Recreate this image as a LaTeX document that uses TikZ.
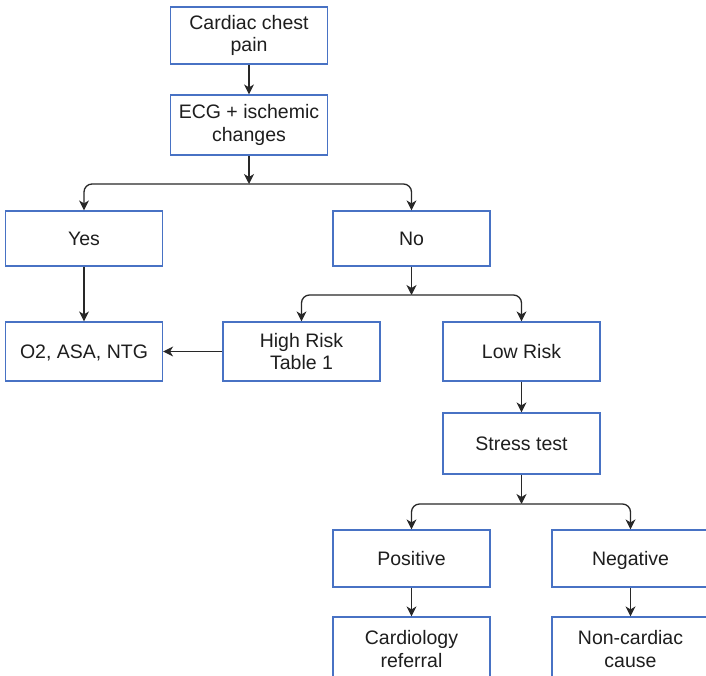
\documentclass[tikz,border=0pt]{standalone}
\usepackage{fontspec}
\setmainfont{Liberation Sans}
\usetikzlibrary{arrows.meta}
\definecolor{boxblue}{RGB}{72,114,196}
\definecolor{linegray}{RGB}{40,40,40}
\definecolor{txt}{RGB}{30,30,30}
\tikzset{
  fbox/.style={draw=boxblue, line width=1.2pt, fill=white, minimum width=157pt, minimum height=57pt,
    inner sep=0pt, align=center, text=txt, font=\fontsize{19.5}{22.5}\selectfont},
  onebox/.style={fbox, text height=14pt, text depth=1pt},
  conn/.style={draw=linegray, line width=1.3pt},
  arr/.style={conn, -{Stealth[length=10pt,width=10pt,inset=3pt]}},
  branch/.style={arr, rounded corners=8pt}
}
\begin{document}
\begin{tikzpicture}[x=1pt,y=-1pt]
\useasboundingbox (0,0) rectangle (706,675);
\begin{scope}
\clip (0,0) rectangle (706,675);
\node[fbox] (chest) at (249,35.5) {Cardiac chest\\pain};
\node[fbox, minimum height=60pt] (ecg) at (249,125) {ECG + ischemic\\changes};
\node[onebox, minimum height=55pt] (yes) at (84,238.5) {Yes};
\node[onebox, minimum height=55pt] (no) at (411.5,238.5) {No};
\node[onebox, minimum height=59pt] (o2) at (84,351.5) {O2, ASA, NTG};
\node[fbox, minimum height=59pt] (high) at (301.5,351.5) {High Risk\\Table 1};
\node[onebox, minimum height=59pt] (low) at (521.5,351.5) {Low Risk};
\node[onebox, minimum height=61pt] (stress) at (521.5,443.5) {Stress test};
\node[onebox] (pos) at (411.5,558.5) {Positive};
\node[onebox] (neg) at (630.5,558.5) {Negative};
\node[fbox, minimum height=64pt, text depth=0pt] (card) at (411.5,649) {Cardiology\\referral};
\node[fbox, minimum height=64pt, text depth=0pt] (noncard) at (630.5,649) {Non-cardiac\\cause};
\coordinate (j1) at (249,184);
\coordinate (j2) at (411.5,295);
\coordinate (j3) at (521.5,504);
\draw[arr] (chest) -- (ecg);
\draw[arr] (ecg) -- (j1);
\draw[branch] (j1) -| (yes);
\draw[branch] (j1) -| (no);
\draw[arr] (yes) -- (o2);
\draw[arr] (no) -- (j2);
\draw[branch] (j2) -| (high);
\draw[branch] (j2) -| (low);
\draw[arr] (high) -- (o2);
\draw[arr] (low) -- (stress);
\draw[arr] (stress) -- (j3);
\draw[branch] (j3) -| (pos);
\draw[branch] (j3) -| (neg);
\draw[arr] (pos) -- (card);
\draw[arr] (neg) -- (noncard);
\end{scope}
\end{tikzpicture}
\end{document}
